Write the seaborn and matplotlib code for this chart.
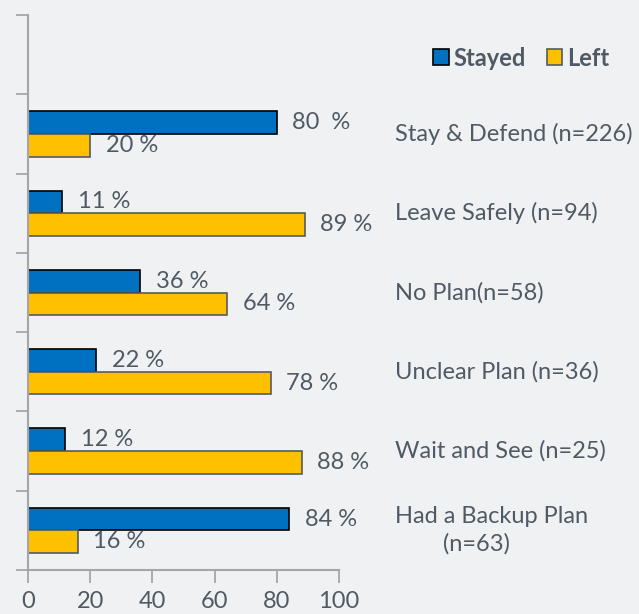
import pandas as pd
import matplotlib.pyplot as plt
import seaborn as sns
from matplotlib.patches import Patch

# data
categories = ["Stay & Defend (n=226)", "Leave Safely (n=94)", "No Plan(n=58)",
              "Unclear Plan (n=36)", "Wait and See (n=25)", "Had a Backup Plan\n        (n=63)"]
stayed = [80, 11, 36, 22, 12, 84]
left = [20, 89, 64, 78, 88, 16]
stayed_labels = ["80  %", "11 %", "36 %", "22 %", "12 %", "84 %"]
left_labels = ["20 %", "89 %", "64 %", "78 %", "88 %", "16 %"]

BG = "#F0F1F3"
TXT = "#4F5A65"
BLUE = "#0070C0"
GOLD = "#FFC000"

df = pd.DataFrame({
    "Plan": categories * 2,
    "Pct": stayed + left,
    "Status": ["Stayed"] * len(categories) + ["Left"] * len(categories),
})

sns.set_style("white")
plt.rcParams["font.family"] = ["Lato", "DejaVu Sans"]

fig = plt.figure(figsize=(6.39, 6.14), dpi=100, facecolor=BG)
ax = fig.add_axes([28 / 639, 44 / 614, 311 / 639, 555 / 614])
ax.set_facecolor(BG)

sns.barplot(data=df, y="Plan", x="Pct", hue="Status", orient="h",
            palette={"Stayed": BLUE, "Left": GOLD}, width=0.57,
            saturation=1, legend=False, ax=ax)

edges = ["black", "#555B61"]
for cont, ec in zip(ax.containers, edges):
    for bar in cont:
        bar.set_edgecolor(ec)
        bar.set_linewidth(1.2)

# value labels
for cont, labs in zip(ax.containers, [stayed_labels, left_labels]):
    for bar, lab in zip(cont, labs):
        yc = bar.get_y() + bar.get_height() / 2
        ax.text(bar.get_width() + 5.0, yc, lab, va="center", ha="left",
                fontsize=17, color=TXT)

# category names on the right
for i, cat in enumerate(categories):
    ax.text(118, i, cat, va="center", ha="left", fontsize=17, color=TXT,
            clip_on=False, linespacing=1.3)

ax.set_xlim(0, 100)
ax.set_ylim(5.5, -1.5)
ax.set_yticks([k - 0.5 for k in range(-1, 7)])
ax.set_yticklabels([])
ax.set_xticks(range(0, 101, 20))
ax.tick_params(axis="x", labelsize=17, colors="#A6A6A6", labelcolor=TXT,
               length=9, width=1.3, direction="out", pad=6, bottom=True)
ax.tick_params(axis="y", colors="#A6A6A6", length=9, width=1.3,
               direction="out", left=True)
ax.set_xlabel("")
ax.set_ylabel("")
for s in ["top", "right"]:
    ax.spines[s].set_visible(False)
for s in ["left", "bottom"]:
    ax.spines[s].set_color("#A6A6A6")
    ax.spines[s].set_linewidth(1.5)

handles = [Patch(facecolor=BLUE, edgecolor="black", linewidth=1.2, label="Stayed"),
           Patch(facecolor=GOLD, edgecolor="#555B61", linewidth=1.2, label="Left")]
leg = fig.legend(handles=handles, loc="center left",
                 bbox_to_anchor=(412 / 639, 1 - 58 / 614), ncol=2, frameon=False,
                 handlelength=0.65, handleheight=0.65, handletextpad=0.2,
                 columnspacing=0.9, prop={"weight": "bold", "size": 17})
for t in leg.get_texts():
    t.set_color(TXT)

fig.savefig("out.png", dpi=100, facecolor=BG)
